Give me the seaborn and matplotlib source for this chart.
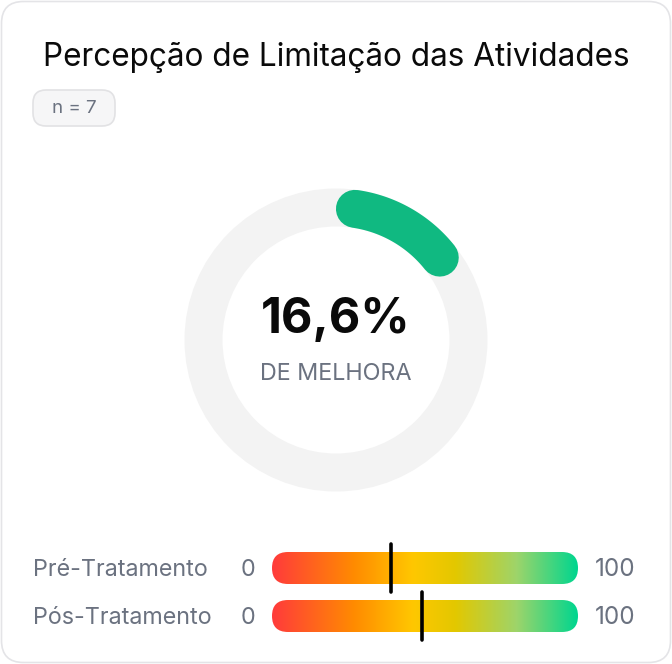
import numpy as np
import matplotlib
matplotlib.use("Agg")
import matplotlib.pyplot as plt
from matplotlib.patches import FancyBboxPatch, Circle
from matplotlib.colors import LinearSegmentedColormap
import seaborn as sns

# data
title = "Percepção de Limitação das Atividades"
n_label = "n = 7"
improvement = 16.6
improvement_label = "16,6%"
improvement_text = "DE MELHORA"
phases = ["Pré-Tratamento", "Pós-Tratamento"]
scores = [39, 49]
scale_min, scale_max = 0, 100

sns.set_theme(style="white")
plt.rcParams["font.family"] = ["Inter", "DejaVu Sans"]

W, H = 672, 664
fig = plt.figure(figsize=(W / 100, H / 100), dpi=100)
fig.patch.set_facecolor("white")


def px_axes(x0, y0, w, h):
    # axes placed by pixel box (top-left origin)
    return fig.add_axes([x0 / W, 1 - (y0 + h) / H, w / W, h / H])


# card background
ax = px_axes(0, 0, W, H)
ax.set_xlim(0, W)
ax.set_ylim(H, 0)
ax.axis("off")
card = FancyBboxPatch((1.5, 1.5), W - 3, H - 3, boxstyle="round,pad=0,rounding_size=22",
                      facecolor="white", edgecolor="#e4e4e7", linewidth=1.2)
ax.add_patch(card)

ax.text(W / 2, 66, title, ha="center", va="baseline", fontsize=22.7, color="#0a0a0a")

pill = FancyBboxPatch((33, 90), 82, 36, boxstyle="round,pad=0,rounding_size=13",
                      facecolor="#f6f6f7", edgecolor="#e2e2e4", linewidth=1.2)
ax.add_patch(pill)
ax.text(74, 108.5, n_label, ha="center", va="center", fontsize=13.5, color="#6b7280")

# donut
dax = px_axes(176, 180, 320, 320)
dax.set_xlim(-160, 160)
dax.set_ylim(-160, 160)
dax.set_aspect("equal")
dax.axis("off")
r_mid, ring_w = 132.5, 38
lw_pt = ring_w * 0.72
dax.add_patch(Circle((0, 0), r_mid, fill=False, edgecolor="#f3f3f3", lw=lw_pt))
cap = np.degrees((ring_w / 2) / r_mid)
sweep = improvement / 100 * 360
a = np.radians(np.linspace(90 - cap, 90 - sweep + cap, 100))
dax.plot(r_mid * np.cos(a), r_mid * np.sin(a), color="#10b981", lw=lw_pt,
         solid_capstyle="round")
dax.text(0, 20, improvement_label, ha="center", va="center", fontsize=35,
         fontweight="bold", color="#0a0a0a")
dax.text(0, -34, improvement_text, ha="center", va="center", fontsize=16.8,
         color="#6b7280")

# gradient bars
cmap = LinearSegmentedColormap.from_list("grad", [
    (0.0, "#ff3b3b"), (0.27, "#ff8c00"), (0.46, "#ffc700"), (0.6, "#e3c800"),
    (0.8, "#9ed46a"), (1.0, "#00d68f")])
grad = np.linspace(0, 1, 512).reshape(1, -1)
bar_x, bar_w, bar_h = 272, 306, 32
bar_tops = [552, 600]

for phase, score, top in zip(phases, scores, bar_tops):
    bax = px_axes(bar_x, top, bar_w, bar_h)
    bax.set_xlim(scale_min, scale_max)
    bax.set_ylim(0, 1)
    bax.axis("off")
    im = bax.imshow(grad, cmap=cmap, extent=[scale_min, scale_max, 0, 1], aspect="auto")
    ux = (scale_max - scale_min) / bar_w
    clip = FancyBboxPatch((scale_min, 0), scale_max - scale_min, 1,
                          boxstyle=f"round,pad=0,rounding_size={bar_h / 2 * ux}",
                          mutation_aspect=(1 / bar_h) / ux,
                          transform=bax.transData, facecolor="none", edgecolor="none")
    bax.add_patch(clip)
    im.set_clip_path(clip)
    bax.plot([score, score], [-0.25, 1.25], color="#000000", lw=2.6, clip_on=False,
             solid_capstyle="round")
    yc = top + bar_h / 2 + 1.5
    ax.text(33, yc, phase, ha="left", va="center", fontsize=16.8, color="#6b7280")
    ax.text(255, yc, str(scale_min), ha="right", va="center", fontsize=16.8, color="#6b7280")
    ax.text(595, yc, str(scale_max), ha="left", va="center", fontsize=17.5, color="#6b7280")

fig.savefig("out.png", dpi=100, facecolor="white")
